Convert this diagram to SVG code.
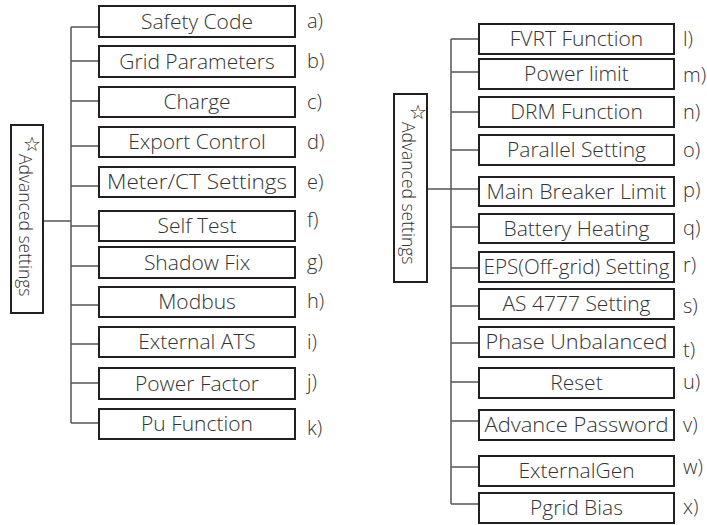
<svg xmlns="http://www.w3.org/2000/svg" width="707" height="525" viewBox="0 0 707 525">
<style>
.box{fill:#fff;stroke:#231f20;stroke-width:2}
.t{font-family:"Open Sans","Liberation Sans",sans-serif;font-weight:300;font-size:21px;fill:#333;text-anchor:middle}
.lb{font-family:"Open Sans","Liberation Sans",sans-serif;font-weight:300;font-size:20px;fill:#333}
.vt{font-family:"Open Sans","Liberation Sans",sans-serif;font-weight:300;font-size:17.5px;fill:#333}
.star{font-family:"DejaVu Sans",sans-serif;font-size:20px;fill:#222;text-anchor:middle}
.c{fill:none;stroke:#555;stroke-width:1.5}
</style>
<rect width="707" height="525" fill="#fff"/>
<g id="connectors">
<path class="c" d="M43 221H71M71 27V423M71 27H99M71 61H99M71 101H99M71 146H99M71 186H99M71 226H99M71 266H99M71 305H99M71 344H99M71 383H99M71 423H99"/>
<path class="c" d="M427 189H451M451 39V504M451 39H479M451 72H479M451 112H479M451 150H479M451 189H479M451 227H479M451 268H479M451 306H479M451 343H479M451 382H479M451 421H479M451 467H479M451 504H479"/>
</g>
<g id="root-left">
<rect class="box" x="11" y="125" width="32" height="188"/>
<text class="star" x="32" y="151">☆</text>
<text class="vt" transform="translate(19 154) rotate(90)">Advanced settings</text>
</g>
<g id="root-right">
<rect class="box" x="394" y="94" width="33" height="188"/>
<text class="star" x="418" y="119">☆</text>
<text class="vt" transform="translate(402 122) rotate(90)">Advanced settings</text>
</g>
<g id="a"><rect class="box" x="99" y="6" width="196" height="31"/><text class="t" x="197" y="29">Safety Code</text><text class="lb" x="307" y="28">a)</text></g>
<g id="b"><rect class="box" x="99" y="46" width="196" height="31"/><text class="t" x="197" y="69">Grid Parameters</text><text class="lb" x="307" y="68">b)</text></g>
<g id="c"><rect class="box" x="99" y="87" width="196" height="30"/><text class="t" x="197" y="109">Charge</text><text class="lb" x="307" y="109">c)</text></g>
<g id="d"><rect class="box" x="99" y="127" width="196" height="30"/><text class="t" x="197" y="149">Export Control</text><text class="lb" x="307" y="149">d)</text></g>
<g id="e"><rect class="box" x="99" y="167" width="196" height="30"/><text class="t" x="197" y="189" textLength="180" lengthAdjust="spacingAndGlyphs">Meter/CT Settings</text><text class="lb" x="307" y="189">e)</text></g>
<g id="f"><rect class="box" x="99" y="211" width="196" height="30"/><text class="t" x="197" y="233">Self Test</text><text class="lb" x="307" y="227">f)</text></g>
<g id="g"><rect class="box" x="99" y="247" width="196" height="31"/><text class="t" x="197" y="270">Shadow Fix</text><text class="lb" x="307" y="269">g)</text></g>
<g id="h"><rect class="box" x="99" y="287" width="196" height="30"/><text class="t" x="197" y="309">Modbus</text><text class="lb" x="307" y="308">h)</text></g>
<g id="i"><rect class="box" x="99" y="327" width="196" height="30"/><text class="t" x="197" y="349">External ATS</text><text class="lb" x="307" y="349">i)</text></g>
<g id="j"><rect class="box" x="99" y="368" width="196" height="31"/><text class="t" x="197" y="391">Power Factor</text><text class="lb" x="307" y="389">j)</text></g>
<g id="k"><rect class="box" x="99" y="409" width="196" height="30"/><text class="t" x="197" y="431">Pu Function</text><text class="lb" x="307" y="435">k)</text></g>
<g id="l"><rect class="box" x="479" y="24" width="195" height="30"/><text class="t" x="576.5" y="46">FVRT Function</text><text class="lb" x="683" y="46">l)</text></g>
<g id="m"><rect class="box" x="479" y="59" width="195" height="30"/><text class="t" x="576.5" y="81">Power limit</text><text class="lb" x="683" y="82">m)</text></g>
<g id="n"><rect class="box" x="479" y="97" width="195" height="30"/><text class="t" x="576.5" y="119">DRM Function</text><text class="lb" x="683" y="119">n)</text></g>
<g id="o"><rect class="box" x="479" y="135" width="195" height="30"/><text class="t" x="576.5" y="157">Parallel Setting</text><text class="lb" x="683" y="157">o)</text></g>
<g id="p"><rect class="box" x="479" y="177" width="195" height="29"/><text class="t" x="576.5" y="199" textLength="180" lengthAdjust="spacingAndGlyphs">Main Breaker Limit</text><text class="lb" x="683" y="197">p)</text></g>
<g id="q"><rect class="box" x="479" y="214" width="195" height="29"/><text class="t" x="576.5" y="236">Battery Heating</text><text class="lb" x="683" y="235">q)</text></g>
<g id="r"><rect class="box" x="479" y="252" width="195" height="30"/><text class="t" x="576.5" y="274" textLength="186" lengthAdjust="spacingAndGlyphs">EPS(Off-grid) Setting</text><text class="lb" x="683" y="272">r)</text></g>
<g id="s"><rect class="box" x="479" y="289" width="195" height="30"/><text class="t" x="576.5" y="311">AS 4777 Setting</text><text class="lb" x="683" y="313">s)</text></g>
<g id="t"><rect class="box" x="479" y="327" width="195" height="30"/><text class="t" x="576.5" y="349" textLength="182" lengthAdjust="spacingAndGlyphs">Phase Unbalanced</text><text class="lb" x="683" y="357">t)</text></g>
<g id="u"><rect class="box" x="479" y="368" width="195" height="30"/><text class="t" x="576.5" y="390">Reset</text><text class="lb" x="683" y="389">u)</text></g>
<g id="v"><rect class="box" x="479" y="410" width="195" height="30"/><text class="t" x="576.5" y="432" textLength="184" lengthAdjust="spacingAndGlyphs">Advance Password</text><text class="lb" x="683" y="432">v)</text></g>
<g id="w"><rect class="box" x="479" y="456" width="195" height="30"/><text class="t" x="576.5" y="478">ExternalGen</text><text class="lb" x="683" y="474">w)</text></g>
<g id="x"><rect class="box" x="479" y="493" width="195" height="30"/><text class="t" x="576.5" y="515">Pgrid Bias</text><text class="lb" x="683" y="514">x)</text></g>
</svg>
